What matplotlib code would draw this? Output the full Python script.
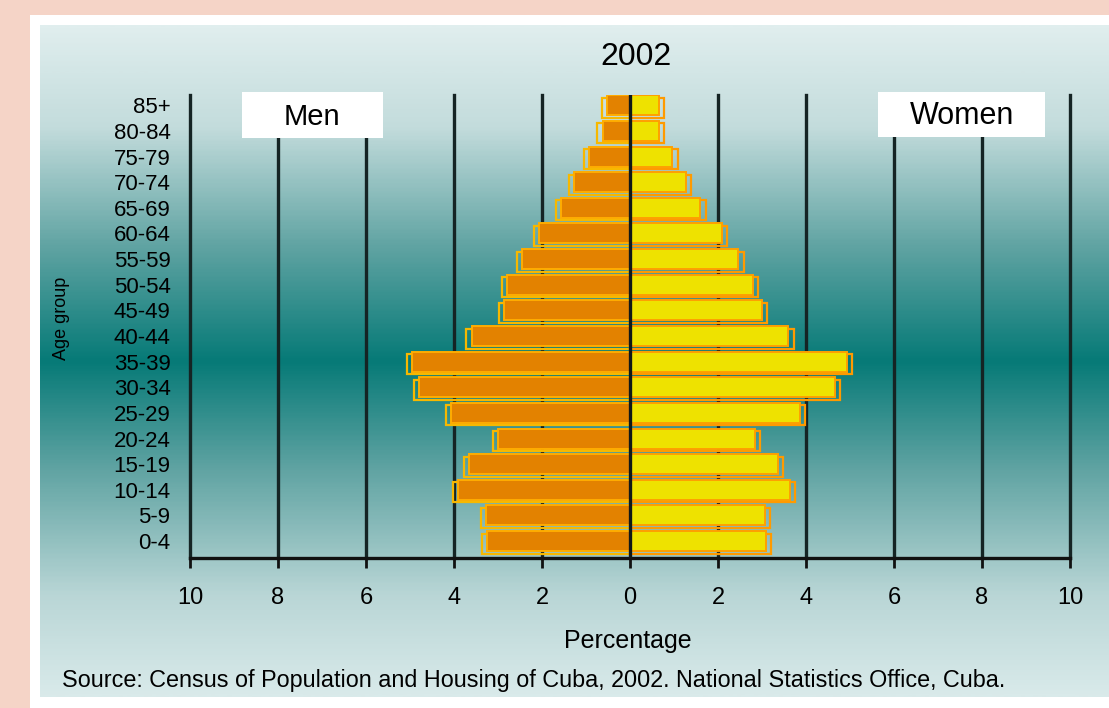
import matplotlib
matplotlib.use("Agg")
import matplotlib.pyplot as plt
import numpy as np
from matplotlib.colors import LinearSegmentedColormap
from matplotlib.patches import Rectangle

plt.rcParams["font.family"] = ["Liberation Sans", "DejaVu Sans"]

age_groups = ["0-4", "5-9", "10-14", "15-19", "20-24", "25-29", "30-34", "35-39",
              "40-44", "45-49", "50-54", "55-59", "60-64", "65-69", "70-74",
              "75-79", "80-84", "85+"]
men = [3.25, 3.27, 3.9, 3.66, 3.0, 4.07, 4.8, 4.95, 3.6, 2.86, 2.8, 2.45,
       2.07, 1.57, 1.27, 0.93, 0.62, 0.52]
women = [3.08, 3.06, 3.63, 3.36, 2.83, 3.86, 4.66, 4.93, 3.6, 3.0, 2.8, 2.46,
         2.09, 1.6, 1.27, 0.96, 0.66, 0.66]
x_ticks = [-10, -8, -6, -4, -2, 0, 2, 4, 6, 8, 10]

W, H = 1109, 708
fig = plt.figure(figsize=(W / 100, H / 100), dpi=100, facecolor="#f5d4c7")

# white frame and teal gradient panel
fig.patches.append(Rectangle((30 / W, 0), 1, 693 / H, transform=fig.transFigure,
                             facecolor="white", edgecolor="none", zorder=-3))
bg = fig.add_axes([40 / W, 11 / H, 1 - 40 / W, 672 / H], zorder=-2)
bg_cmap = LinearSegmentedColormap.from_list(
    "panel", [(0.0, "#e0eeee"), (0.15, "#c3dcdc"), (0.33, "#5fa3a2"),
              (0.5, "#067a77"), (0.66, "#5fa3a2"), (0.85, "#b9d6d6"),
              (1.0, "#d9eaea")])
bg.imshow(np.linspace(0, 1, 400).reshape(-1, 1), cmap=bg_cmap, aspect="auto",
          extent=(0, 1, 0, 1))
bg.axis("off")

ax = fig.add_axes([190 / W, 150 / H, 880 / W, 463 / H], zorder=1)
ax.set_facecolor("none")

y = np.arange(len(age_groups))
men_neg = -np.array(men)
women_arr = np.array(women)
bar_h = 0.78

# offset outlines behind the bars
ax.barh(y - 0.1, men_neg - 0.12, height=bar_h, facecolor="none",
        edgecolor="#f7b800", linewidth=1.6, zorder=2)
ax.barh(y - 0.1, women_arr + 0.12, height=bar_h, facecolor="none",
        edgecolor="#ff9a00", linewidth=1.6, zorder=2)
ax.barh(y, men_neg, height=bar_h, color="#e38200", edgecolor="#ffad00",
        linewidth=1.4, zorder=3)
ax.barh(y, women_arr, height=bar_h, color="#eee200", edgecolor="#ffa000",
        linewidth=1.4, zorder=3)

for xv in x_ticks:
    if xv != 0:
        ax.axvline(xv, color="#152424", linewidth=2.4, zorder=1, clip_on=False)
ax.axvline(0, color="#101818", linewidth=2.4, zorder=4)

ax.set_xlim(-10, 10)
ax.set_ylim(-0.66, 17.4)
ax.set_xticks(x_ticks)
ax.set_xticklabels([str(abs(v)) for v in x_ticks], fontsize=17)
ax.set_yticks(y)
ax.set_yticklabels(age_groups, fontsize=16)
ax.tick_params(axis="x", length=7, width=2, color="#111111", pad=14)
ax.tick_params(axis="y", length=0, pad=14)
for side in ("top", "right", "left"):
    ax.spines[side].set_visible(False)
ax.spines["bottom"].set_linewidth(2.4)
ax.spines["bottom"].set_color("#111111")

# sex labels
ax.add_patch(Rectangle((-8.82, 15.72), 3.2, 1.78, facecolor="white",
                       edgecolor="none", zorder=5, clip_on=False))
ax.text(-7.22, 16.55, "Men", fontsize=21, ha="center", va="center", zorder=6)
ax.add_patch(Rectangle((5.64, 15.76), 3.8, 1.74, facecolor="white",
                       edgecolor="none", zorder=5, clip_on=False))
ax.text(7.54, 16.57, "Women", fontsize=22, ha="center", va="center", zorder=6)

fig.text(636 / W, 1 - 57 / H, "2002", fontsize=23, ha="center", va="center")
fig.text(628 / W, 1 - 641 / H, "Percentage", fontsize=18, ha="center", va="center")
fig.text(62 / W, 1 - 318 / H, "Age group", fontsize=13, rotation=90,
         ha="center", va="center")
fig.text(62 / W, 1 - 680 / H,
         "Source: Census of Population and Housing of Cuba, 2002. National Statistics Office, Cuba.",
         fontsize=16.8, ha="left", va="center")

fig.savefig("out.png", dpi=100, facecolor=fig.get_facecolor())
